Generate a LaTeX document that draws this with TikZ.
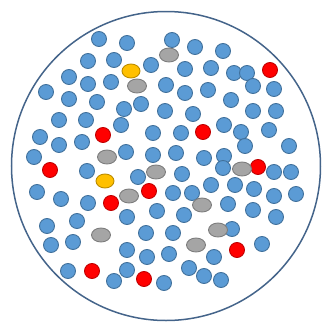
\documentclass[tikz,border=0pt]{standalone}
\usetikzlibrary{shapes.geometric}
\definecolor{dotblue}{RGB}{91,155,213}
\definecolor{dotblueedge}{RGB}{65,113,156}
\definecolor{dotred}{RGB}{255,0,0}
\definecolor{dotrededge}{RGB}{192,0,0}
\definecolor{dotgray}{RGB}{165,165,165}
\definecolor{dotgrayedge}{RGB}{125,125,125}
\definecolor{dotyellow}{RGB}{255,192,0}
\definecolor{dotyellowedge}{RGB}{188,140,0}
\definecolor{ringcol}{RGB}{68,100,138}
\tikzset{
  bluedot/.style={circle,fill=dotblue,draw=dotblueedge,line width=0.9pt,minimum size=15pt,inner sep=0pt},
  reddot/.style={circle,fill=dotred,draw=dotrededge,line width=0.9pt,minimum size=15pt,inner sep=0pt},
  graydot/.style={ellipse,fill=dotgray,draw=dotgrayedge,line width=0.9pt,minimum width=19pt,minimum height=14pt,inner sep=0pt},
  yellowdot/.style={ellipse,fill=dotyellow,draw=dotyellowedge,line width=0.9pt,minimum width=18pt,minimum height=14pt,inner sep=0pt},
  ring/.style={circle,draw=ringcol,line width=1.5pt,minimum size=309pt,inner sep=0pt}
}
\begin{document}
\begin{tikzpicture}[x=1pt,y=-1pt]
\useasboundingbox (0,0) rectangle (322,325);
\node[ring] (outer) at (166,166) {};
\foreach \x/\y [count=\i] in {
99/39,127/43,172/40,195/47,223/51,
88/61,114/60,151/65,185/69,211/68,234/73,247/73,
69/77,88/84,111/82,166/85,185/93,208/90,253/86,274/89,
46/92,69/99,97/102,141/104,231/100,
124/109,165/111,193/114,253/111,276/111,
59/120,86/120,121/125,224/125,
153/133,181/133,241/132,269/130,
40/137,82/142,59/145,245/146,289/146,
126/152,153/155,176/153,204/158,224/156,
34/157,223/168,274/172,291/172,182/174,87/171,138/177,
37/192,61/199,88/203,211/185,235/185,254/189,274/196,296/194,173/193,192/193,
157/211,127/217,228/204,253/210,276/217,184/215,
47/226,77/221,146/233,173/233,232/229,262/244,
51/245,73/242,127/250,147/257,169/254,214/257,
68/271,127/270,114/281,164/283,189/268,204/276,221/280}
  \node[bluedot] (b\i) at (\x,\y) {};
\foreach \x/\y [count=\i] in {
270/70,103/135,203/132,50/170,258/167,149/191,111/203,237/250,92/271,144/279}
  \node[reddot] (r\i) at (\x,\y) {};
\foreach \x/\y [count=\i] in {
169/55,137/86,107/157,156/172,242/169,129/196,202/205,218/230,101/235,196/245}
  \node[graydot] (g\i) at (\x,\y) {};
\foreach \x/\y [count=\i] in {131/71,105/181}
  \node[yellowdot] (y\i) at (\x,\y) {};
\end{tikzpicture}
\end{document}
